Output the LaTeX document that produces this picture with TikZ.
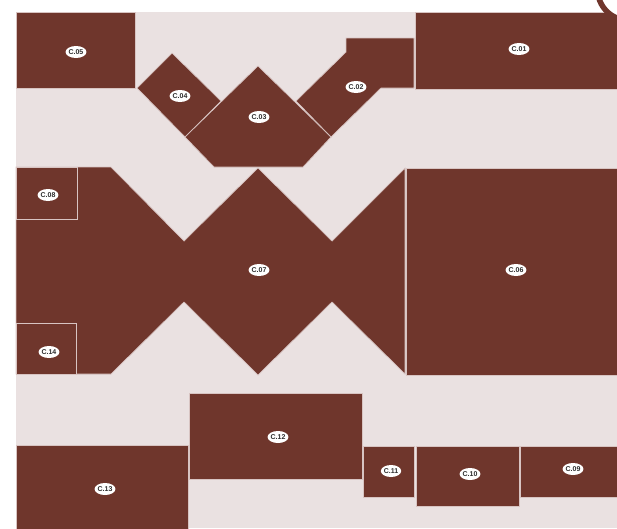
\documentclass[tikz,border=0pt]{standalone}
\usepackage{fontspec}
\setsansfont{Liberation Sans}
\usetikzlibrary{shapes.geometric}
\definecolor{bgpink}{HTML}{EAE1E1}
\definecolor{roombrown}{HTML}{6F362C}
\definecolor{edgepink}{HTML}{D8C4C2}
\definecolor{labeltext}{HTML}{2E2E2E}
\tikzset{
  room/.style={fill=roombrown, draw=edgepink, line width=0.7pt, line join=miter},
  tag/.style={ellipse, fill=white, inner sep=0pt, minimum width=20pt, minimum height=12pt,
    text=labeltext, font=\sffamily\bfseries\fontsize{7}{8}\selectfont}
}
\begin{document}
\begin{tikzpicture}[x=1pt,y=-1pt]
\useasboundingbox (0,0) rectangle (617,528);
\clip (0,0) rectangle (617,528);
\fill[white] (0,0) rectangle (617,528);
\fill[bgpink] (16,12) rectangle (617,528);
% C.05
\draw[room] (16,12) rectangle (135,88);
% C.04
\draw[room] (172,53) -- (221,101) -- (185,137) -- (137,88) -- cycle;
% C.03
\draw[room] (258,66) -- (331,137) -- (303,167) -- (214,167) -- (185,137) -- cycle;
% C.02
\draw[room] (346,38) -- (414,38) -- (414,88) -- (381,88) -- (331,137) -- (296,101) -- (346,52) -- cycle;
% C.01
\draw[room] (415,12) rectangle (640,89);
% C.07
\draw[room] (16,167) -- (111,167) -- (184,241) -- (258,168) -- (332,241) -- (405,168) -- (405,374)
  -- (332,302) -- (258,375) -- (184,302) -- (111,374) -- (16,374) -- cycle;
% C.08, C.14
\draw[room] (16,167) rectangle (77,219);
\draw[room] (16,323) rectangle (76,374);
% C.06
\draw[room] (406,168) rectangle (640,375);
% bottom row
\draw[room] (16,445) rectangle (188,540);
\draw[room] (189,393) rectangle (362,479);
\draw[room] (363,446) rectangle (414,497);
\draw[room] (416,446) rectangle (519,506);
\draw[room] (520,446) rectangle (640,497);
% corner circle
\draw[draw=roombrown, fill=white, line width=5.5pt] (629,-11) circle[radius=31.5];
% labels
\node[tag] (c01) at (519,49) {C.01};
\node[tag] (c02) at (356,87) {C.02};
\node[tag] (c03) at (259,117) {C.03};
\node[tag] (c04) at (180,96) {C.04};
\node[tag] (c05) at (76,52) {C.05};
\node[tag] (c06) at (516,270) {C.06};
\node[tag] (c07) at (259,270) {C.07};
\node[tag] (c08) at (48,195) {C.08};
\node[tag] (c09) at (573,469) {C.09};
\node[tag] (c10) at (470,474) {C.10};
\node[tag] (c11) at (391,471) {C.11};
\node[tag] (c12) at (278,437) {C.12};
\node[tag] (c13) at (105,489) {C.13};
\node[tag] (c14) at (49,352) {C.14};
\end{tikzpicture}
\end{document}
